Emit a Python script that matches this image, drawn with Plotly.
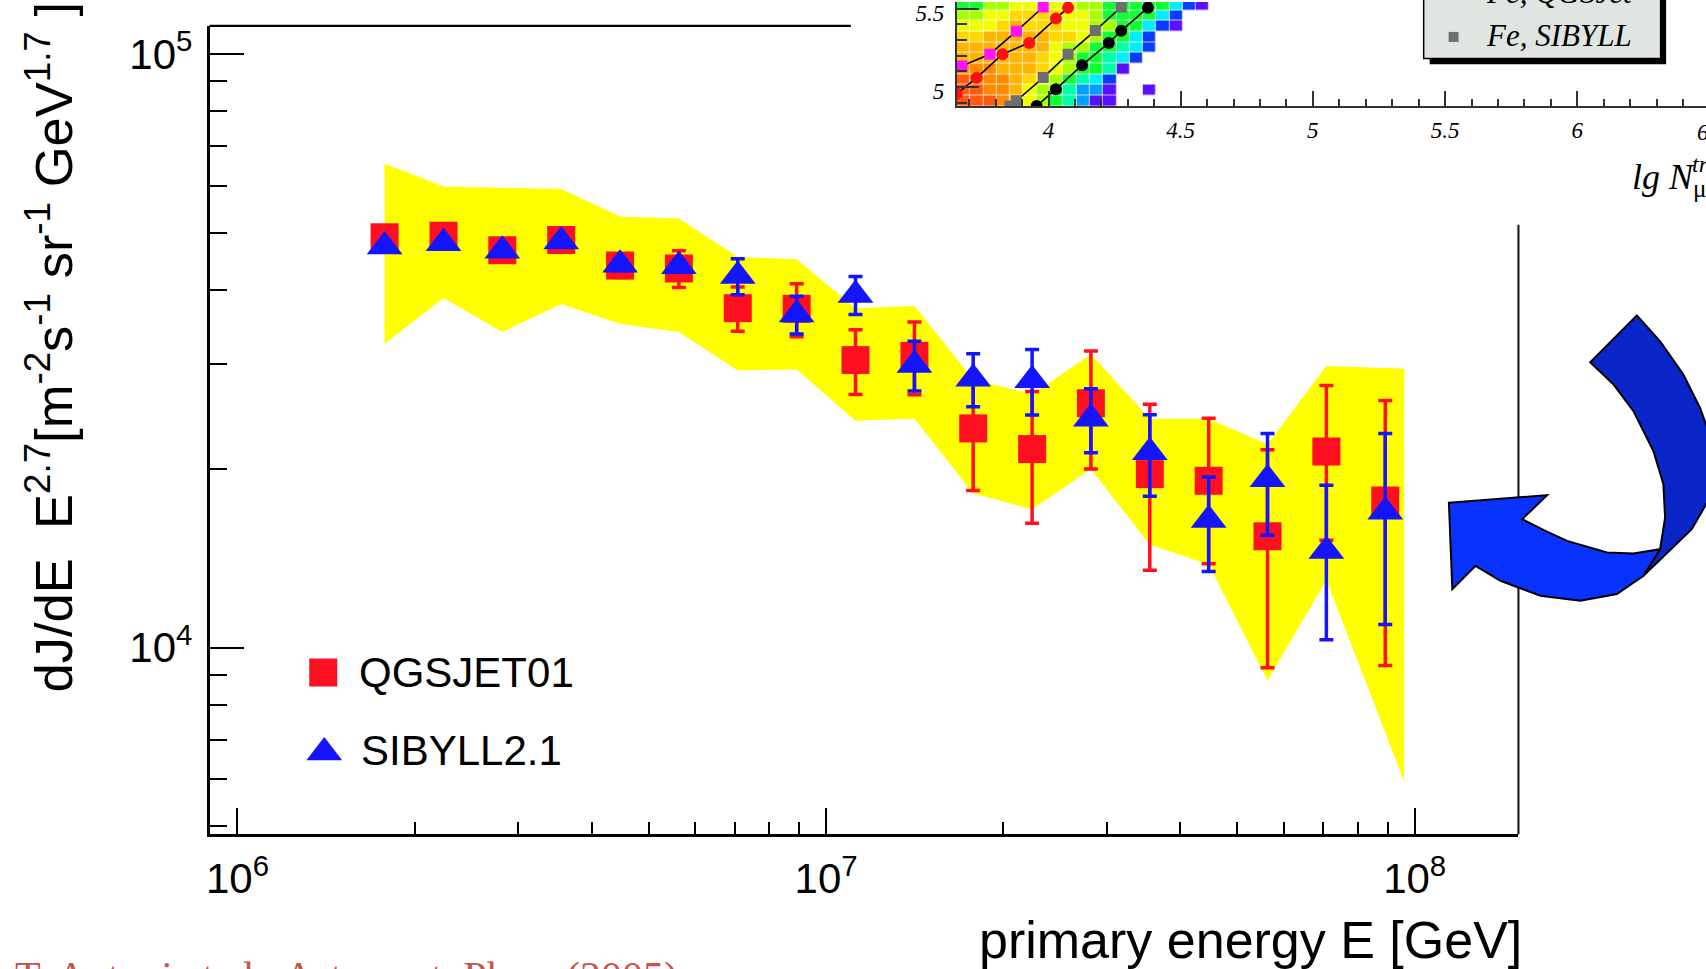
import plotly.graph_objects as go

W, H = 1706, 969

# ---------------- main chart data ----------------
energy_gev = [1.778e6, 2.239e6, 2.818e6, 3.548e6, 4.467e6, 5.623e6, 7.079e6, 8.913e6,
              1.122e7, 1.413e7, 1.778e7, 2.239e7, 2.818e7, 3.548e7, 4.467e7, 5.623e7,
              7.079e7, 8.913e7]
qgsjet_flux = [49100, 49400, 46700, 48600, 44000, 43500, 37300, 37200, 30500, 31000,
               23400, 21600, 25800, 19600, 19100, 15400, 21400, 17700]
qgsjet_err = [1500, 1500, 1500, 1500, 2000, 3100, 3200, 3800, 3800, 4350,
              5000, 5400, 5800, 6100, 5250, 6150, 6230, 8370]
sibyll_flux = [47400, 48000, 46600, 48300, 44150, 43900, 42240, 36400, 39270, 29930,
               28360, 28210, 24290, 21330, 16410, 19210, 14540, 16940]
sibyll_err = [1000, 1000, 1000, 1000, 1000, 1000, 2960, 2670, 2890, 2880,
              2900, 3560, 3000, 3350, 2970, 3740, 4230, 6000]

band_energy = [1.778e6, 2.239e6, 2.818e6, 3.548e6, 4.467e6, 5.623e6, 7.079e6, 8.913e6,
               1.122e7, 1.413e7, 1.778e7, 2.239e7, 2.818e7, 3.548e7, 4.467e7, 5.623e7,
               7.079e7, 9.6e7]
band_upper = [65300, 59800, 59500, 59200, 53200, 52800, 45500, 45100, 37300, 37600,
              28300, 26700, 31200, 24300, 24300, 22000, 29800, 29500]
band_lower = [32500, 38800, 34000, 37900, 35100, 34000, 29300, 29400, 24100, 24300,
              18200, 17100, 20000, 14900, 13800, 8800, 13000, 5950]

x_major = [1e6, 1e7, 1e8]
x_major_text = ["10<sup>6</sup>", "10<sup>7</sup>", "10<sup>8</sup>"]
x_minor = [2e6, 3e6, 4e6, 5e6, 6e6, 7e6, 8e6, 9e6, 2e7, 3e7, 4e7, 5e7, 6e7, 7e7, 8e7, 9e7]
y_major = [1e4, 1e5]
y_major_text = ["10<sup>4</sup>", "10<sup>5</sup>"]
y_minor = [5e3, 6e3, 7e3, 8e3, 9e3, 2e4, 3e4, 4e4, 5e4, 6e4, 7e4, 8e4, 9e4]

legend_names = ["QGSJET01", "SIBYLL2.1"]

# ---------------- inset data (partially visible) ----------------
inset_cell_x = [3.678, 3.728, 3.779, 3.829, 3.879, 3.930, 3.980, 4.030, 4.080, 4.131,
                4.181, 4.231, 4.282, 4.332, 4.382, 4.432, 4.483, 4.533, 4.583]
inset_cell_y = [4.913, 4.981, 5.049, 5.117, 5.185, 5.253, 5.321, 5.389, 5.457, 5.525]
N = None
inset_levels = [
    [12, 12, 12, 11, 10, 8, 7, 6, 5, 3, 1, 1, N, N, N, N, N, N, N],
    [12, 12, 11, 11, 10, 8, 7, 6, 5, 3, 3, 1, N, N, 1, N, N, N, N],
    [12, 11, 11, 11, 10, 9, 8, 7, 6, 5, 4, 2, N, N, N, N, N, N, N],
    [11, 11, 11, 10, 10, 10, 9, 8, 7, 6, 6, 5, 1, N, N, N, N, N, N],
    [10, 10, 10, 10, 10, 10, 9, 8, 7, 6, 6, 5, 4, 2, N, N, N, N, N],
    [10, 10, 10, 10, 10, 10, 10, 8, 7, 7, 6, 6, 5, 4, 2, N, N, N, N],
    [9, 9, 10, 10, 10, 10, 10, 9, 9, 8, 7, 6, 6, 4, 2, N, N, N, N],
    [8, 8, 8, 9, 10, 9, 9, 9, 8, 8, 7, 7, 6, 6, 4, 2, 1, N, N],
    [7, 7, 8, 8, 9, 9, 9, 9, 8, 8, 7, 6, 6, 6, 6, 4, 2, N, N],
    [6, 6, 7, 7, 8, 8, 8, 8, 8, 7, 7, 6, 6, 6, 6, 6, 4, 2, 1],
]
palette = ["#5a10ff", "#0a3cff", "#00a0ff", "#00eeff", "#00ffa8", "#10ff30",
           "#a8ff00", "#f0ff00", "#ffd800", "#ffb400", "#ff8a00", "#ff5a10"]

p_sib_x = [3.672, 3.778, 3.879, 3.980]
p_sib_y = [5.134, 5.210, 5.357, 5.511]
p_qgs_x = [3.653, 3.728, 3.826, 3.927, 4.028, 4.074]
p_qgs_y = [4.958, 5.059, 5.210, 5.282, 5.437, 5.507]
fe_sib_x = [3.854, 3.879, 3.980, 4.074, 4.177, 4.275]
fe_sib_y = [4.879, 4.913, 5.061, 5.210, 5.361, 5.511]
fe_qgs_x = [3.955, 4.028, 4.127, 4.228, 4.275, 4.376]
fe_qgs_y = [4.879, 4.987, 5.140, 5.282, 5.359, 5.507]

inset_x_ticks = [4, 4.5, 5, 5.5, 6]
inset_x_cut_tick = "6.5"
inset_y_ticks = [5, 5.5]

FONT = "Liberation Sans, Arial, sans-serif"
SERIF = "Liberation Serif, Times New Roman, serif"
RED = "#ff1020"
BLUE = "#1414ff"


def px(x):
    return x / W


def py(y):
    return 1 - y / H


fig = go.Figure()

# yellow systematic band
fig.add_trace(go.Scatter(
    x=band_energy + band_energy[::-1], y=band_upper + band_lower[::-1],
    fill="toself", fillcolor="#ffff00", line=dict(width=0), mode="lines",
    hoverinfo="skip", showlegend=False, xaxis="x", yaxis="y"))

fig.add_trace(go.Scatter(
    x=energy_gev, y=qgsjet_flux, mode="markers", name=legend_names[0],
    marker=dict(symbol="square", size=28, color=RED, line=dict(width=0)),
    error_y=dict(type="data", array=qgsjet_err, color=RED, thickness=3.5, width=7),
    showlegend=False, xaxis="x", yaxis="y"))

fig.add_trace(go.Scatter(
    x=energy_gev, y=sibyll_flux, mode="markers", name=legend_names[1],
    marker=dict(symbol="triangle-up", size=31, color=BLUE, line=dict(width=0)),
    error_y=dict(type="data", array=sibyll_err, color=BLUE, thickness=3.5, width=7),
    showlegend=False, xaxis="x", yaxis="y"))

# legend keys on a small helper axis (pixel-like units)
fig.add_trace(go.Scatter(
    x=[30], y=[32], mode="markers",
    marker=dict(symbol="square", size=28, color=RED),
    showlegend=False, hoverinfo="skip", xaxis="x3", yaxis="y3"))
fig.add_trace(go.Scatter(
    x=[31], y=[112], mode="markers",
    marker=dict(symbol="triangle-up", size=31, color=BLUE),
    showlegend=False, hoverinfo="skip", xaxis="x3", yaxis="y3"))

# inset heatmap
cs = []
for i, c in enumerate(palette):
    cs.append([i / len(palette), c])
    cs.append([(i + 1) / len(palette), c])
fig.add_trace(go.Heatmap(
    x=inset_cell_x, y=inset_cell_y, z=inset_levels, zmin=0.5, zmax=12.5,
    colorscale=cs, showscale=False, xgap=0.7, ygap=0.7, hoverinfo="skip",
    xaxis="x2", yaxis="y2"))

for xs, ys, col, sym, sz in [
        (p_sib_x, p_sib_y, "#ff10ff", "square", 11),
        (p_qgs_x, p_qgs_y, "#ff1010", "circle", 12),
        (fe_sib_x, fe_sib_y, "#6e6e6e", "square", 11),
        (fe_qgs_x, fe_qgs_y, "#000000", "circle", 12)]:
    fig.add_trace(go.Scatter(
        x=xs, y=ys, mode="lines", line=dict(color="black", width=1.6),
        showlegend=False, hoverinfo="skip", xaxis="x2", yaxis="y2"))
    fig.add_trace(go.Scatter(
        x=xs, y=ys, mode="markers",
        marker=dict(symbol=sym, size=sz, color=col, line=dict(width=0)),
        showlegend=False, hoverinfo="skip", xaxis="x2", yaxis="y2"))

axis_common = dict(showgrid=False, zeroline=False, linecolor="black", tickcolor="black")

fig.update_layout(
    width=W, height=H, margin=dict(l=0, r=0, t=0, b=0),
    paper_bgcolor="white", plot_bgcolor="rgba(0,0,0,0)",
    showlegend=False,
    xaxis=dict(type="log", range=[5.9525, 8.1763], domain=[px(206), px(1518)],
               anchor="y", showline=True, linewidth=2.5, ticks="inside", ticklen=27,
               tickwidth=2, tickmode="array", tickvals=x_major, ticktext=x_major_text,
               tickfont=dict(family=FONT, size=42, color="black"),
               ticklabelstandoff=6,
               minor=dict(ticks="inside", ticklen=13, tickwidth=2, tickcolor="black",
                          tickmode="array", tickvals=x_minor),
               **axis_common),
    yaxis=dict(type="log", range=[3.6857, 5.047], domain=[py(834), py(24)],
               anchor="x", showline=True, linewidth=2.5, ticks="inside", ticklen=35,
               tickwidth=2, tickmode="array", tickvals=y_major, ticktext=y_major_text,
               tickfont=dict(family=FONT, size=42, color="black"),
               ticklabelstandoff=6,
               minor=dict(ticks="inside", ticklen=18, tickwidth=2, tickcolor="black",
                          tickmode="array", tickvals=y_minor),
               **axis_common),
    xaxis2=dict(range=[3.653, 6.487], domain=[px(955), 1.0], anchor="y2",
                showline=True, linewidth=2, linecolor="#333333", ticks="inside",
                ticklen=15, tickwidth=1.5, tickcolor="#333333", tickmode="array",
                tickvals=inset_x_ticks,
                ticktext=["<i>%g</i>" % v for v in inset_x_ticks],
                tickfont=dict(family=SERIF, size=23, color="black"),
                ticklabelstandoff=2,
                minor=dict(ticks="inside", ticklen=7, tickwidth=1.5, tickcolor="#333333",
                           dtick=0.1, tick0=0),
                showgrid=False, zeroline=False),
    yaxis2=dict(range=[4.879, 5.543], domain=[py(104.3), 1.0], anchor="x2",
                showline=True, linewidth=2, linecolor="#333333", ticks="inside",
                ticklen=22, tickwidth=1.5, tickcolor="#333333", tickmode="array",
                tickvals=inset_y_ticks,
                ticktext=["<i>%g</i>" % v for v in inset_y_ticks],
                tickfont=dict(family=SERIF, size=23, color="black"),
                ticklabelstandoff=6, ticklabelshift=4,
                minor=dict(ticks="inside", ticklen=10, tickwidth=1.5, tickcolor="#333333",
                           dtick=0.1, tick0=0),
                showgrid=False, zeroline=False),
    xaxis3=dict(range=[0, 310], domain=[px(290), px(600)], anchor="y3", visible=False),
    yaxis3=dict(range=[150, 0], domain=[py(790), py(640)], anchor="x3", visible=False),
)

shapes = [
    # partial top and right frame lines of the main pad
    dict(type="line", xref="x domain", yref="y domain", x0=0, x1=0.49, y0=1, y1=1,
         line=dict(color="black", width=2.2)),
    dict(type="line", xref="x domain", yref="y domain", x0=1, x1=1, y0=0, y1=0.754,
         line=dict(color="#222222", width=2.2)),
    # inset legend box with shadow
    dict(type="rect", xref="paper", yref="paper", x0=px(1429), x1=px(1666),
         y0=py(62.5), y1=py(-10), fillcolor="black", line=dict(width=0)),
    dict(type="rect", xref="paper", yref="paper", x0=px(1423), x1=px(1660.5),
         y0=py(56.5), y1=py(-12), fillcolor="#e1e5e1", line=dict(color="black", width=1.5)),
    dict(type="rect", xref="paper", yref="paper", x0=px(1448), x1=px(1458),
         y0=py(40), y1=py(30), fillcolor="#707070", line=dict(width=0)),
]


def path(points):
    s = "M " + " L ".join("%.5f,%.5f" % (px(x), py(y)) for x, y in points) + " Z"
    return s


arrow_light = [(1448.3, 501.7), (1546.7, 494.3), (1521.7, 518.3), (1545, 530),
               (1566.7, 540), (1606.7, 551.7), (1633.3, 552.7), (1660, 548.3),
               (1643.3, 575), (1616.7, 593.3), (1580, 600), (1540, 595),
               (1500, 580), (1475, 565), (1451.7, 588.3)]
arrow_dark = [(1660, 548.3), (1665, 516.7), (1663.3, 483.3), (1653.3, 450),
              (1633.3, 410), (1613.3, 383.3), (1590, 361), (1636.7, 314),
              (1660, 340), (1683.3, 373.3), (1700, 406.7), (1712, 440),
              (1714, 470), (1708, 500), (1691.7, 528.3), (1643.3, 575)]
shapes.append(dict(type="path", xref="paper", yref="paper", path=path(arrow_dark),
                   fillcolor="#0a26c8", line=dict(color="black", width=2), layer="above"))
shapes.append(dict(type="path", xref="paper", yref="paper", path=path(arrow_light),
                   fillcolor="#0a32ff", line=dict(color="black", width=2), layer="above"))
fig.update_layout(shapes=shapes)

ann = [
    dict(text="primary energy E [GeV]", xref="paper", yref="paper", x=px(1524), y=py(940),
         xanchor="right", yanchor="middle", showarrow=False,
         font=dict(family=FONT, size=52, color="black")),
    dict(text="dJ/dE  E<sup>2.7</sup>[m<sup>-2</sup>s<sup>-1</sup> sr<sup>-1</sup> "
              "GeV<sup>1.7</sup> ]",
         xref="paper", yref="paper", x=px(46), y=py(694), xanchor="center",
         yanchor="bottom", textangle=-90, showarrow=False,
         font=dict(family=FONT, size=52.5, color="black")),
    dict(text=legend_names[0], xref="x3", yref="y3", x=64, y=32, xanchor="left",
         yanchor="middle", showarrow=False, font=dict(family=FONT, size=42, color="black")),
    dict(text=legend_names[1], xref="x3", yref="y3", x=66, y=110, xanchor="left",
         yanchor="middle", showarrow=False, font=dict(family=FONT, size=42, color="black")),
    dict(text="T. Antoni et al., Astropart. Phys. (2005)", xref="paper", yref="paper",
         x=px(9), y=py(978), xanchor="left", yanchor="middle", showarrow=False,
         font=dict(family=SERIF, size=42, color="#c8564c")),
    dict(text="<i>Fe, SIBYLL</i>", xref="paper", yref="paper", x=px(1483), y=py(34),
         xanchor="left", yanchor="middle", showarrow=False,
         font=dict(family=SERIF, size=31, color="black")),
    dict(text="<i>Fe, QGSJet</i>", xref="paper", yref="paper", x=px(1483), y=py(-10),
         xanchor="left", yanchor="middle", showarrow=False,
         font=dict(family=SERIF, size=31, color="black")),
    dict(text="<i>lg N</i><sub>μ</sub>", xref="paper", yref="paper", x=px(1630), y=py(178),
         xanchor="left", yanchor="middle", showarrow=False,
         font=dict(family=SERIF, size=36, color="black")),
    dict(text="<i>tr.</i>", xref="paper", yref="paper", x=px(1690), y=py(162),
         xanchor="left", yanchor="middle", showarrow=False,
         font=dict(family=SERIF, size=24, color="black")),
    # last inset tick label, cut by the right edge of the slide
    dict(text="<i>%s</i>" % inset_x_cut_tick, xref="paper", yref="paper", x=px(1695),
         y=py(131), xanchor="left", yanchor="middle", showarrow=False,
         font=dict(family=SERIF, size=23, color="black")),
]
fig.update_layout(annotations=ann)

fig.write_html("out.html")
